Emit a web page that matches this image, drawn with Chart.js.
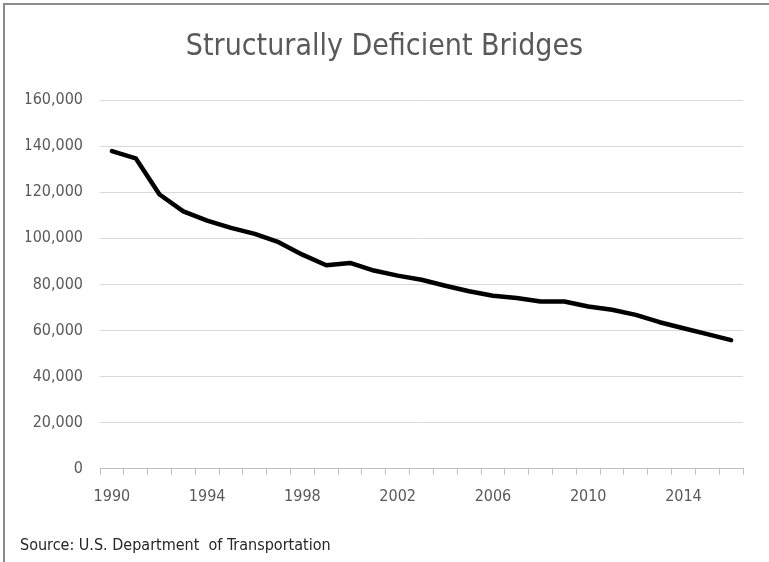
<!DOCTYPE html>
<html>
<head>
<meta charset="utf-8">
<script src="https://cdn.jsdelivr.net/npm/chart.js@4"></script>
<style>
  html, body { margin: 0; padding: 0; background: #fff; }
  #wrap { position: relative; width: 769px; height: 562px; overflow: hidden; }
  #frame { position: absolute; left: 3px; top: 3px; width: 800px; height: 600px;
           border-left: 2px solid #8c8c8c; border-top: 2px solid #8c8c8c; }
  #box { position: absolute; left: 0; top: 0; width: 769px; height: 562px; }
  #source { position: absolute; left: 20px; top: 535px; font: 16px "Liberation Sans Narrow", "DejaVu Sans Condensed", sans-serif;
            color: #262626; }
</style>
</head>
<body>
<div id="wrap">
  <div id="frame"></div>
  <div id="box"><canvas id="chart"></canvas></div>
  <div id="source">Source: U.S. Department&nbsp; of Transportation</div>
</div>
<script>
// ---------- Data ----------
const years = [
  "1990", "1991", "1992", "1993", "1994", "1995", "1996", "1997", "1998",
  "1999", "2000", "2001", "2002", "2003", "2004", "2005", "2006", "2007",
  "2008", "2009", "2010", "2011", "2012", "2013", "2014", "2015", "2016"
];
const deficientBridges = [
  137800, 134700, 119000, 111700, 107700, 104500, 101900, 98300, 92900,
  88300, 89300, 86000, 83800, 82000, 79400, 77000, 75100, 74100,
  72600, 72600, 70400, 69000, 66800, 63600, 61000, 58400, 55800
];
const yTicks = { min: 0, max: 160000, step: 20000 };

const FONT = '"Liberation Sans Narrow", "DejaVu Sans Condensed", sans-serif';
const grey = "#595959";

new Chart(document.getElementById("chart"), {
  type: "line",
  data: {
    labels: years,
    datasets: [{
      label: "Structurally Deficient Bridges",
      data: deficientBridges,
      borderColor: "#000",
      borderWidth: 4.5,
      pointRadius: 0,
      tension: 0,
      borderCapStyle: "round",
      borderJoinStyle: "round"
    }]
  },
  options: {
    responsive: true,
    maintainAspectRatio: false,
    animation: false,
    layout: { padding: { left: 26, right: 26, top: 0, bottom: 44 } },
    plugins: {
      legend: { display: false },
      tooltip: { enabled: false },
      title: {
        display: true,
        text: "Structurally Deficient Bridges",
        color: grey,
        font: { family: FONT, size: 30, weight: "normal" },
        padding: { top: 29, bottom: 35 }
      }
    },
    scales: {
      x: {
        offset: true,
        grid: {
          display: true,
          offset: true,
          drawOnChartArea: false,
          drawTicks: true,
          tickLength: 6,
          color: "#bfbfbf"
        },
        border: { display: true, color: "#bfbfbf", width: 1 },
        ticks: {
          autoSkip: false,
          maxRotation: 0,
          color: grey,
          padding: 12,
          font: { family: FONT, size: 16 },
          callback: (v, i) => (i % 4 === 0 ? years[i] : "")
        }
      },
      y: {
        min: yTicks.min,
        max: yTicks.max,
        afterFit: (s) => { s.width = 74; },
        grid: { color: "#d9d9d9", drawTicks: false },
        border: { display: false },
        ticks: {
          stepSize: yTicks.step,
          color: grey,
          padding: 17,
          font: { family: FONT, size: 16 },
          callback: (v) => v.toLocaleString("en-US")
        }
      }
    }
  }
});
</script>
</body>
</html>
